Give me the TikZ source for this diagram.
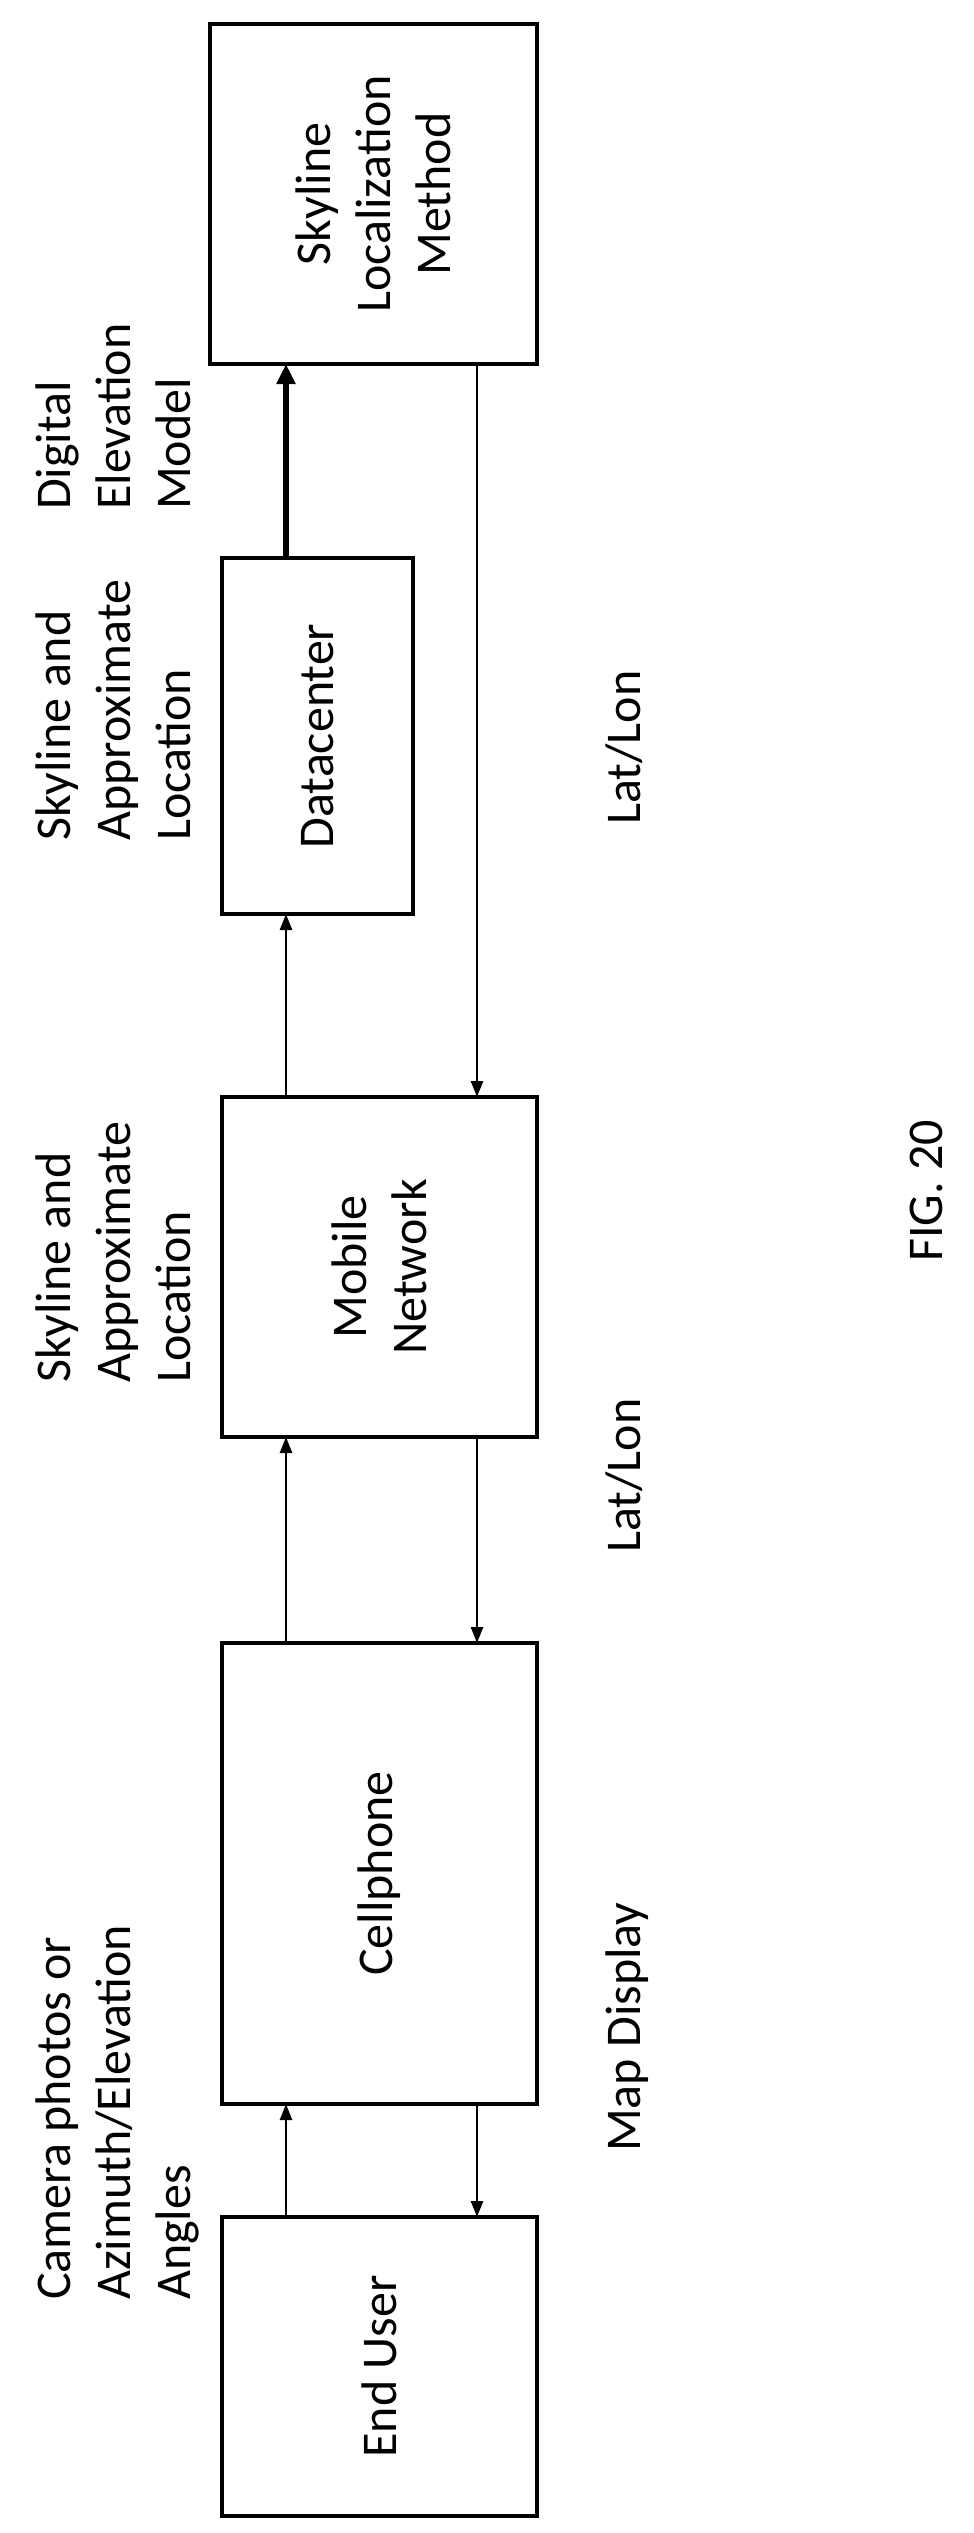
\documentclass[tikz,border=0pt]{standalone}
\usepackage{fontspec}
\setmainfont{Carlito}
\usetikzlibrary{arrows.meta}
\begin{document}
\begin{tikzpicture}[x=1pt,y=-1pt,
  blk/.style={draw,line width=4.5pt,inner sep=0},
  conn/.style={line width=2.5pt,-{Triangle[length=16pt,width=12pt]}},
  lbl/.style={rotate=90,anchor=north west,inner sep=0,align=left,font=\fontsize{50}{60}\selectfont},
  btxt/.style={rotate=90,align=center,font=\fontsize{50}{60}\selectfont}]
\useasboundingbox (0,0) rectangle (974,2533);
\draw[blk] (222,2217) rectangle (537,2516); \node[btxt] (eu) at (379.5,2366.5) {End User};
\draw[blk] (222,1643) rectangle (537,2104); \node[btxt] (cp) at (379.5,1873.5) {Cellphone};
\draw[blk] (222,1097) rectangle (537,1437); \node[btxt] (mn) at (379.5,1267) {Mobile\\Network};
\draw[blk] (222,558) rectangle (413,914); \node[btxt] (dc) at (317.5,736) {Datacenter};
\draw[blk] (210,24) rectangle (537,364); \node[btxt] (sk) at (373.5,194) {Skyline\\Localization\\Method};
\coordinate (a1) at (286,2217); \coordinate (a2) at (286,2104);
\coordinate (b1) at (477,2104); \coordinate (b2) at (477,2217);
\coordinate (c1) at (286,1643); \coordinate (c2) at (286,1437);
\coordinate (d1) at (477,1437); \coordinate (d2) at (477,1643);
\coordinate (e1) at (286,1097); \coordinate (e2) at (286,914);
\coordinate (f1) at (286,558); \coordinate (f2) at (286,364);
\coordinate (g1) at (477,364); \coordinate (g2) at (477,1097);
\draw[conn] (a1)--(a2); \draw[conn] (b1)--(b2);
\draw[conn] (c1)--(c2); \draw[conn] (d1)--(d2);
\draw[conn] (e1)--(e2);
\draw[line width=6pt,-{Triangle[length=20pt,width=18pt]}] (f1)--(f2);
\draw[conn] (g1)--(g2);
\node[lbl] (l1) at (36,2300) {Camera photos or\\Azimuth/Elevation\\Angles};
\node[lbl] (l2) at (606,2152) {Map Display};
\node[lbl] (l3) at (36,1383) {Skyline and\\Approximate\\Location};
\node[lbl] (l4) at (606,1553) {Lat/Lon};
\node[lbl] (l5) at (36,841) {Skyline and\\Approximate\\Location};
\node[lbl] (l6) at (606,825) {Lat/Lon};
\node[lbl] (l7) at (36,510) {Digital\\Elevation\\Model};
\node[lbl] (fig) at (910,1262) {FIG. 20};
\end{tikzpicture}
\end{document}
